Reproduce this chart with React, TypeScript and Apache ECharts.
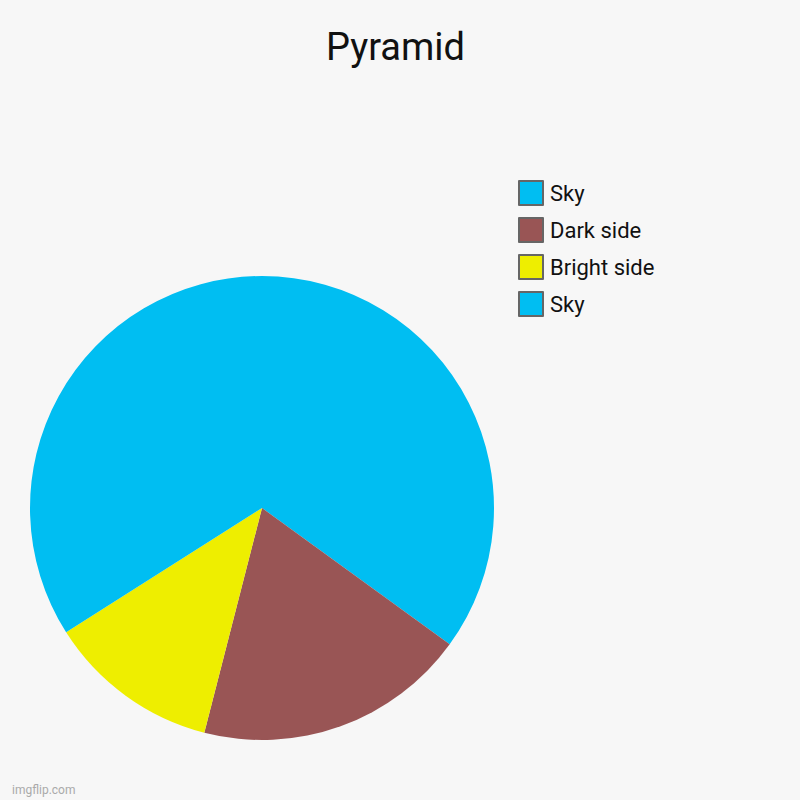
import { useEffect, useRef } from 'react';
import * as echarts from 'echarts';

// legend keys are unique, labels repeat ("Sky" twice)
const sliceKeys = ['Sky#1', 'Dark side#2', 'Bright side#3', 'Sky#4'];
const sliceValues = [35, 19, 12, 34];
const sliceColors = ['#00bef2', '#995555', '#eeee00', '#00bef2'];

export default function App() {
  const chartRef = useRef<HTMLDivElement>(null);

  useEffect(() => {
    document.body.style.margin = '0';
    if (!chartRef.current) return;
    const chart = echarts.init(chartRef.current, undefined, { renderer: 'svg' });

    chart.setOption({
      animation: false,
      backgroundColor: '#f7f7f7',
      textStyle: { fontFamily: 'Roboto' },
      title: {
        text: 'Pyramid',
        left: 321,
        top: 23,
        textStyle: { fontSize: 38, fontWeight: 'normal', color: '#111', fontFamily: 'Roboto' },
      },
      legend: {
        orient: 'vertical',
        left: 518,
        top: 180,
        padding: 0,
        itemWidth: 24,
        itemHeight: 24,
        itemGap: 11,
        icon: 'rect',
        data: sliceKeys,
        formatter: (name: string) => name.split('#')[0],
        itemStyle: { borderColor: '#666', borderWidth: 2 },
        textStyle: { fontSize: 22, color: '#111', padding: [0, 0, 0, 2] },
        selectedMode: false,
      },
      graphic: [
        {
          type: 'text',
          left: 12,
          top: 784,
          style: { text: 'imgflip.com', fill: '#aaa', fontSize: 12, fontFamily: 'Roboto' },
        },
      ],
      series: [
        {
          type: 'pie',
          center: [262, 508],
          radius: 232,
          startAngle: 90,
          clockwise: true,
          label: { show: false },
          labelLine: { show: false },
          silent: true,
          data: sliceKeys.map((k, i) => ({
            name: k,
            value: sliceValues[i],
            itemStyle: { color: sliceColors[i] },
          })),
        },
      ],
    });

    return () => chart.dispose();
  }, []);

  return <div ref={chartRef} style={{ width: 800, height: 800 }} />;
}
